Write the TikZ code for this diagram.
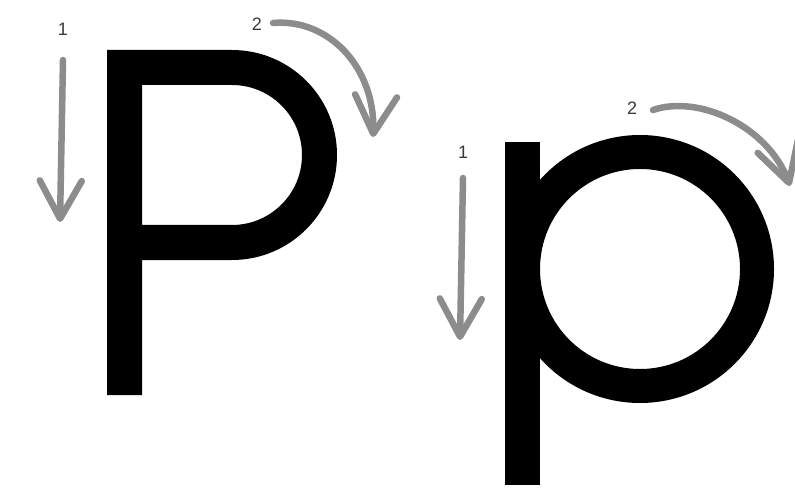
\documentclass[tikz,border=0pt]{standalone}
\usepackage{fontspec}
\setmainfont{Liberation Sans}
\usetikzlibrary{arrows.meta,bending}
\definecolor{stroke}{HTML}{8C8C8C}
\definecolor{labelc}{HTML}{3A3A3A}
\tikzset{
  letter/.style={line width=35pt, line cap=butt, line join=miter, draw=black},
  guide/.style={draw=stroke, line width=6.5pt, line cap=round,
    -{Straight Barb[round, length=38pt, width=42pt, flex]}},
  num/.style={text=labelc, font=\fontsize{18}{18}\selectfont, inner sep=0pt}
}
\begin{document}
\begin{tikzpicture}[x=1pt,y=-1pt]
\useasboundingbox (0,0) rectangle (795,497);
% capital P
\draw[letter] (124.5,395) -- (124.5,67.5) -- (232,67.5) arc (-90:90:87.5) -- (124.5,242.5);
% small p
\draw[letter] (522.5,485) -- (522.5,142);
\draw[line width=34pt] (640,269) circle (117);
% labels
\node[num] (n1a) at (63,29) {1};
\node[num] (n2a) at (257,24) {2};
\node[num] (n1b) at (463,152) {1};
\node[num] (n2b) at (632,108) {2};
% guide arrows
\coordinate (a1s) at (63,60);
\coordinate (a1e) at (60,222);
\draw[guide] (a1s) -- (a1e);
\coordinate (a2s) at (273,23);
\coordinate (a2e) at (373,137);
\draw[guide] (a2s) .. controls (330,18) and (378,70) .. (a2e);
\coordinate (b1s) at (463,178);
\coordinate (b1e) at (460,340);
\draw[guide] (b1s) -- (b1e);
\coordinate (b2s) at (653,110);
\coordinate (b2e) at (790,186);
\draw[guide] (b2s) .. controls (700,94) and (772,128) .. (b2e);
\end{tikzpicture}
\end{document}
